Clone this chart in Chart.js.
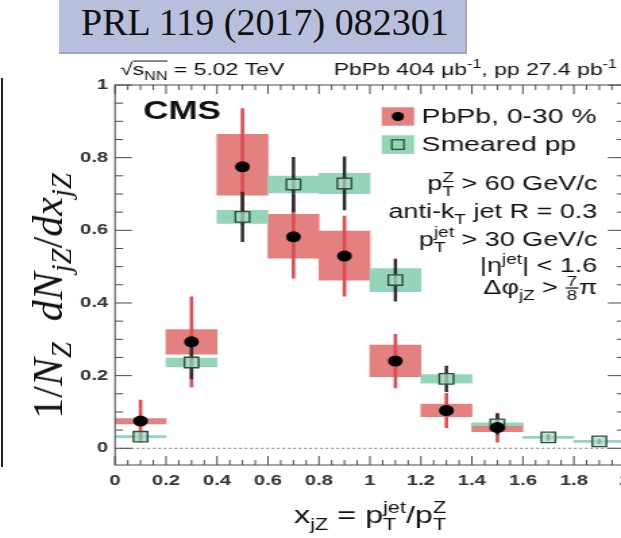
<!DOCTYPE html>
<html>
<head>
<meta charset="utf-8">
<script src="https://cdn.jsdelivr.net/npm/chart.js@4.4.0/dist/chart.umd.min.js"></script>
<style>
  html, body { margin: 0; padding: 0; background: #fff; width: 621px; height: 538px; overflow: hidden; }
  #wrap { position: absolute; left: 0; top: 0; width: 474px; height: 538px; transform: scaleX(1.35); transform-origin: 0 0; }
  #ref { position: absolute; left: 59px; top: 0; width: 408px; height: 54px; box-sizing: border-box;
         background: #b7bfdc; border-right: 2px solid #a9a5b4; border-bottom: 2px solid #a9a5b4;
         font: 38px 'Liberation Serif', serif; color: #111; line-height: 44px; padding-left: 22px; white-space: nowrap; }
  #ytitle { position: absolute; left: 48px; top: 296px; transform: translate(-50%, -50%) rotate(-90deg);
            white-space: nowrap; font: italic 42px 'Liberation Serif', serif; color: #111; }
  #ytitle .up { font-style: normal; }
  #ytitle sub { font-size: 0.68em; vertical-align: -0.3em; line-height: 0; }
  #edge { position: absolute; left: 1px; top: 78px; width: 0; height: 389px; border-left: 2px solid #222; }
</style>
</head>
<body>
<div id="wrap"><canvas id="chart" width="474" height="538"></canvas></div>
<div id="ref">PRL 119 (2017) 082301</div>
<div id="ytitle"><span class="up">1/</span>N<sub>Z</sub>&nbsp; dN<sub>jZ</sub><span class="up">/</span>dx<sub>jZ</sub></div>
<div id="edge"></div>
<script>
// PbPb 0-30 %: punto, errore statistico, box sistematico
const pbpbX = [0.1, 0.3, 0.5, 0.7, 0.9, 1.1, 1.3, 1.5];
const pbpbY = [0.075, 0.293, 0.775, 0.582, 0.529, 0.240, 0.104, 0.057];
const pbpbStat = [0.058, 0.124, 0.160, 0.114, 0.110, 0.074, 0.047, 0.040];
const pbpbSysLo = [0.067, 0.259, 0.697, 0.523, 0.463, 0.197, 0.087, 0.046];
const pbpbSysHi = [0.082, 0.327, 0.864, 0.644, 0.598, 0.284, 0.122, 0.069];

// Smeared pp
const ppX = [0.1, 0.3, 0.5, 0.7, 0.9, 1.1, 1.3, 1.5, 1.7, 1.9];
const ppY = [0.032, 0.236, 0.637, 0.726, 0.729, 0.463, 0.191, 0.066, 0.030, 0.019];
const ppStat = [0.010, 0.045, 0.068, 0.075, 0.073, 0.058, 0.035, 0.028, 0.008, 0.006];
const ppSys = [0.003, 0.012, 0.018, 0.023, 0.028, 0.032, 0.012, 0.004, 0.003, 0.003];

const xTicks = [0, 0.2, 0.4, 0.6, 0.8, 1, 1.2, 1.4, 1.6, 1.8, 2];
const yTicks = [0, 0.2, 0.4, 0.6, 0.8, 1];
const zeroLine = [{ x: 0, y: 0 }, { x: 2, y: 0 }];

const SX = 1.35; // la figura originale e' stirata in orizzontale
const FONT = "'Liberation Sans', Arial, sans-serif";
const RED = '#e38080';
const GREEN = '#94d5b9';

// testo con pedici / apici alla maniera di ROOT
function drawRich(ctx, parts, x, y, size, align) {
    const small = Math.round(size * 0.68);
    const big = size + 'px ' + FONT;
    const sm = small + 'px ' + FONT;
    const widthOf = p => {
        if (p.t !== undefined) { ctx.font = big; return ctx.measureText(p.t).width; }
        ctx.font = sm;
        if (p.frac) return Math.max(ctx.measureText(p.frac[0]).width, ctx.measureText(p.frac[1]).width) + 2;
        return Math.max(p.sub ? ctx.measureText(p.sub).width : 0, p.sup ? ctx.measureText(p.sup).width : 0);
    };
    const total = parts.reduce((s, p) => s + widthOf(p), 0);
    let cx = align === 'right' ? x - total : align === 'center' ? x - total / 2 : x;
    ctx.textAlign = 'left';
    ctx.textBaseline = 'alphabetic';
    parts.forEach(p => {
        const w = widthOf(p);
        if (p.t !== undefined) {
            ctx.font = big;
            ctx.fillText(p.t, cx, y);
        } else if (p.frac) {
            ctx.font = sm;
            const bar = y - size * 0.3;
            ctx.textAlign = 'center';
            ctx.fillText(p.frac[0], cx + w / 2, bar - 2);
            ctx.fillText(p.frac[1], cx + w / 2, bar + small * 0.75 + 1);
            ctx.textAlign = 'left';
            ctx.fillRect(cx, bar - 0.6, w, 1.2);
        } else {
            ctx.font = sm;
            if (p.sub) ctx.fillText(p.sub, cx, y + size * 0.3);
            if (p.sup) ctx.fillText(p.sup, cx, y - size * 0.42);
        }
        if (p.ol) ctx.fillRect(cx, y - size * 0.85, w, 1);
        cx += w;
    });
}

const framePlugin = {
    id: 'frame',
    afterDatasetsDraw(chart) {
        const { ctx, chartArea: a, scales: { x, y } } = chart;
        ctx.save();
        ctx.strokeStyle = '#4a4a4a';
        ctx.lineWidth = 1;
        ctx.strokeRect(a.left, a.top, a.right - a.left, a.bottom - a.top);
        ctx.beginPath();
        // tacche minori ogni 0.05
        for (let i = 0; i <= 40; i++) {
            const px = x.getPixelForValue(i * 0.05);
            const len = i % 4 === 0 ? 9 : 5;
            ctx.moveTo(px, a.bottom); ctx.lineTo(px, a.bottom - len);
            ctx.moveTo(px, a.top); ctx.lineTo(px, a.top + len);
        }
        for (let i = 0; i <= 20; i++) {
            const py = y.getPixelForValue(i * 0.05);
            const len = i % 4 === 0 ? 12.6 : 6;
            ctx.moveTo(a.left, py); ctx.lineTo(a.left + len, py);
            ctx.moveTo(a.right, py); ctx.lineTo(a.right - len, py);
        }
        ctx.stroke();
        ctx.restore();
    },
    afterDraw(chart) {
        const ctx = chart.ctx;
        const L = v => v / SX;
        ctx.save();
        ctx.fillStyle = '#111';

        // intestazione
        drawRich(ctx, [{ t: '\u221A' }, { t: 's', ol: true }, { sub: 'NN', ol: true }, { t: ' = 5.02 TeV' }], L(120), 75, 17, 'left');
        drawRich(ctx, [{ t: 'PbPb 404 \u03BCb' }, { sup: '-1' }, { t: ', pp 27.4 pb' }, { sup: '-1' }], L(617), 75, 17, 'right');

        ctx.font = 'bold 26px ' + FONT;
        ctx.textAlign = 'left';
        ctx.fillText('CMS', L(143), 119);

        // legenda
        ctx.fillStyle = RED;
        ctx.fillRect(L(381.7), 107.3, 24, 18.4);
        ctx.fillStyle = GREEN;
        ctx.fillRect(L(381.7), 135.3, 24, 18.6);
        ctx.fillStyle = '#000';
        ctx.beginPath();
        ctx.arc(L(381.7) + 12, 116.5, 4.5, 0, Math.PI * 2);
        ctx.fill();
        ctx.strokeStyle = '#2d4f40';
        ctx.lineWidth = 1.3;
        ctx.strokeRect(L(381.7) + 12 - 4.5, 144.6 - 4.8, 9, 9.6);
        ctx.fillStyle = '#111';
        ctx.font = '21px ' + FONT;
        ctx.fillText('PbPb, 0-30 %', L(421.7), 122.5);
        ctx.fillText('Smeared pp', L(421.7), 151);

        // selezioni
        const R = L(597.3);
        drawRich(ctx, [{ t: 'p' }, { sub: 'T', sup: 'Z' }, { t: ' > 60 GeV/c' }], R, 190, 20, 'right');
        drawRich(ctx, [{ t: 'anti-k' }, { sub: 'T' }, { t: ' jet R = 0.3' }], R, 217.7, 20, 'right');
        drawRich(ctx, [{ t: 'p' }, { sub: 'T', sup: 'jet' }, { t: ' > 30 GeV/c' }], R, 245.7, 20, 'right');
        drawRich(ctx, [{ t: '|\u03B7' }, { sup: 'jet' }, { t: '| < 1.6' }], R, 272.3, 20, 'right');
        drawRich(ctx, [{ t: '\u0394\u03C6' }, { sub: 'jZ' }, { t: ' > ' }, { frac: ['7', '8'] }, { t: '\u03C0' }], R, 294, 20, 'right');

        // titolo asse x
        drawRich(ctx, [{ t: 'x' }, { sub: 'jZ' }, { t: ' = p' }, { sub: 'T', sup: 'jet' }, { t: '/p' }, { sub: 'T', sup: 'Z' }], L(370), 523, 24, 'center');
        ctx.restore();
    }
};

const dotStyle = { pointStyle: 'circle', pointRadius: 5.5, pointBackgroundColor: '#000', pointBorderWidth: 0 };
const tickFont = { family: FONT, size: 15, weight: 'bold' };

new Chart(document.getElementById('chart'), {
    type: 'bar',
    data: {
        datasets: [
            {
                type: 'line',
                data: zeroLine,
                borderColor: '#7a7a7a',
                borderWidth: 1,
                borderDash: [2, 2],
                pointRadius: 0,
                order: 20
            },
            {
                data: pbpbX.map((x, i) => ({ x: x, y: [pbpbSysLo[i], pbpbSysHi[i]] })),
                backgroundColor: RED,
                barPercentage: 1,
                categoryPercentage: 1,
                grouped: false,
                order: 10
            },
            {
                data: ppX.map((x, i) => ({ x: x, y: [ppY[i] - ppSys[i], ppY[i] + ppSys[i]] })),
                backgroundColor: GREEN,
                barPercentage: 1,
                categoryPercentage: 1,
                grouped: false,
                order: 9
            },
            {
                data: pbpbX.map((x, i) => ({ x: x, y: [pbpbY[i] - pbpbStat[i], pbpbY[i] + pbpbStat[i]] })),
                backgroundColor: '#dc4e55',
                barThickness: 2,
                grouped: false,
                order: 8
            },
            {
                data: ppX.map((x, i) => ({ x: x, y: [ppY[i] - ppStat[i], ppY[i] + ppStat[i]] })),
                backgroundColor: '#2b2b2b',
                barThickness: 1.8,
                grouped: false,
                order: 7
            },
            {
                type: 'scatter',
                data: ppX.map((x, i) => ({ x: x, y: ppY[i] })),
                pointStyle: 'rect',
                pointRadius: 7.4,
                pointBackgroundColor: 'rgba(170, 220, 196, 0.75)',
                pointBorderColor: '#2d4f40',
                pointBorderWidth: 1.4,
                order: 2
            },
            Object.assign({
                type: 'scatter',
                data: pbpbX.map((x, i) => ({ x: x, y: pbpbY[i] })),
                order: 1
            }, dotStyle)
        ]
    },
    options: {
        responsive: false,
        animation: false,
        layout: { padding: { top: 85, right: 10.3, left: 0, bottom: 0 } },
        plugins: {
            legend: { display: false },
            tooltip: { enabled: false }
        },
        scales: {
            x: {
                type: 'linear',
                min: 0,
                max: 2,
                offset: false,
                grid: { display: false, drawTicks: false },
                border: { display: false },
                afterBuildTicks: s => { s.ticks = xTicks.map(v => ({ value: v })); },
                afterFit: s => { s.height = 73; },
                ticks: {
                    padding: 7,
                    font: tickFont,
                    color: '#333',
                    autoSkip: false,
                    maxRotation: 0,
                    callback: v => String(v)
                }
            },
            y: {
                type: 'linear',
                min: -0.046,
                max: 1,
                grid: { display: false, drawTicks: false },
                border: { display: false },
                afterBuildTicks: s => { s.ticks = yTicks.map(v => ({ value: v })); },
                afterFit: s => { s.width = 85.2; },
                ticks: {
                    padding: 5,
                    font: tickFont,
                    color: '#333',
                    callback: v => String(v)
                }
            }
        }
    },
    plugins: [framePlugin]
});
</script>
</body>
</html>
